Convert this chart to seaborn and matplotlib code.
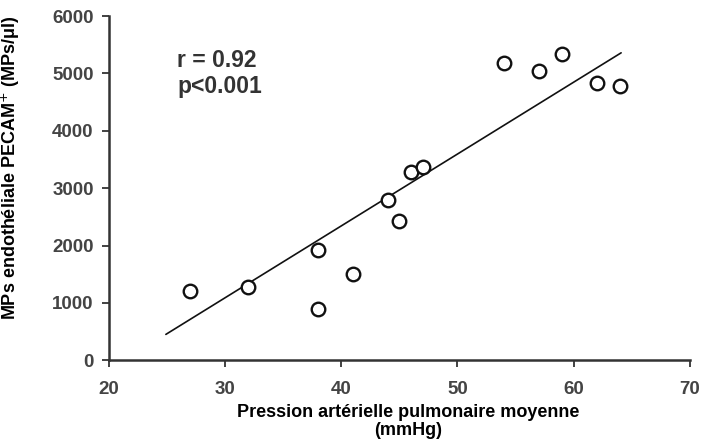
import numpy as np
import pandas as pd
import matplotlib
matplotlib.use("Agg")
import matplotlib.pyplot as plt
import seaborn as sns

# Data
pressure = [27, 32, 38, 38, 41, 44, 45, 46, 47, 54, 57, 59, 62, 64]
mps = [1200, 1270, 1930, 900, 1500, 2790, 2425, 3280, 3370, 5180, 5040, 5340, 4830, 4780]
# Regression line as drawn in the reference (endpoints)
reg_x = [24.9, 64.1]
reg_y = [450, 5360]
x_ticks = [20, 30, 40, 50, 60, 70]
y_ticks = [0, 1000, 2000, 3000, 4000, 5000, 6000]

df = pd.DataFrame({"x": pressure, "y": mps})
df_reg = pd.DataFrame({"x": reg_x, "y": reg_y})

sns.set_theme(style="white")
plt.rcParams['font.family'] = ['Liberation Sans', 'DejaVu Sans']

fig = plt.figure(figsize=(7.03, 4.48), dpi=100)
ax = fig.add_axes([0.155, 0.196, 0.826, 0.768])

sns.lineplot(data=df_reg, x="x", y="y", ax=ax, color="#111111", linewidth=1.2, zorder=2)
sns.scatterplot(data=df, x="x", y="y", ax=ax, marker="o", s=95,
                facecolor="white", edgecolor="#111111", linewidth=1.7, zorder=3)

ax.set_xlim(20, 70)
ax.set_ylim(0, 6000)
ax.set_xticks(x_ticks)
ax.set_yticks(y_ticks)
ax.tick_params(axis="both", direction="out", length=5, width=1.3, color="#333333",
               labelsize=13.5, labelcolor="#444444", left=True, bottom=True)
ax.tick_params(axis="y", pad=6)
ax.tick_params(axis="x", pad=10)
for lab in ax.get_xticklabels() + ax.get_yticklabels():
    lab.set_fontweight("bold")

for s in ["top", "right"]:
    ax.spines[s].set_visible(False)
for s in ["left", "bottom"]:
    ax.spines[s].set_color("#333333")
    ax.spines[s].set_linewidth(1.8)

ax.set_xlabel("Pression artérielle pulmonaire moyenne\n(mmHg)", fontsize=13,
              fontweight="bold", color="black", linespacing=1.05)
ax.xaxis.set_label_coords(0.516, -0.128, transform=ax.transAxes)
ax.xaxis.label.set_va("top")
ax.set_ylabel("MPs endothéliale PECAM$^{+}$ (MPs/μl)", fontsize=13,
              fontweight="bold", color="black")
ax.yaxis.set_label_coords(-0.150, 0.558, transform=ax.transAxes)

ax.text(0.118, 0.905, "r = 0.92\np<0.001", transform=ax.transAxes, fontsize=16.5,
        fontweight="bold", color="#333333", va="top", ha="left", linespacing=1.2)

fig.savefig("out.png", dpi=100)
